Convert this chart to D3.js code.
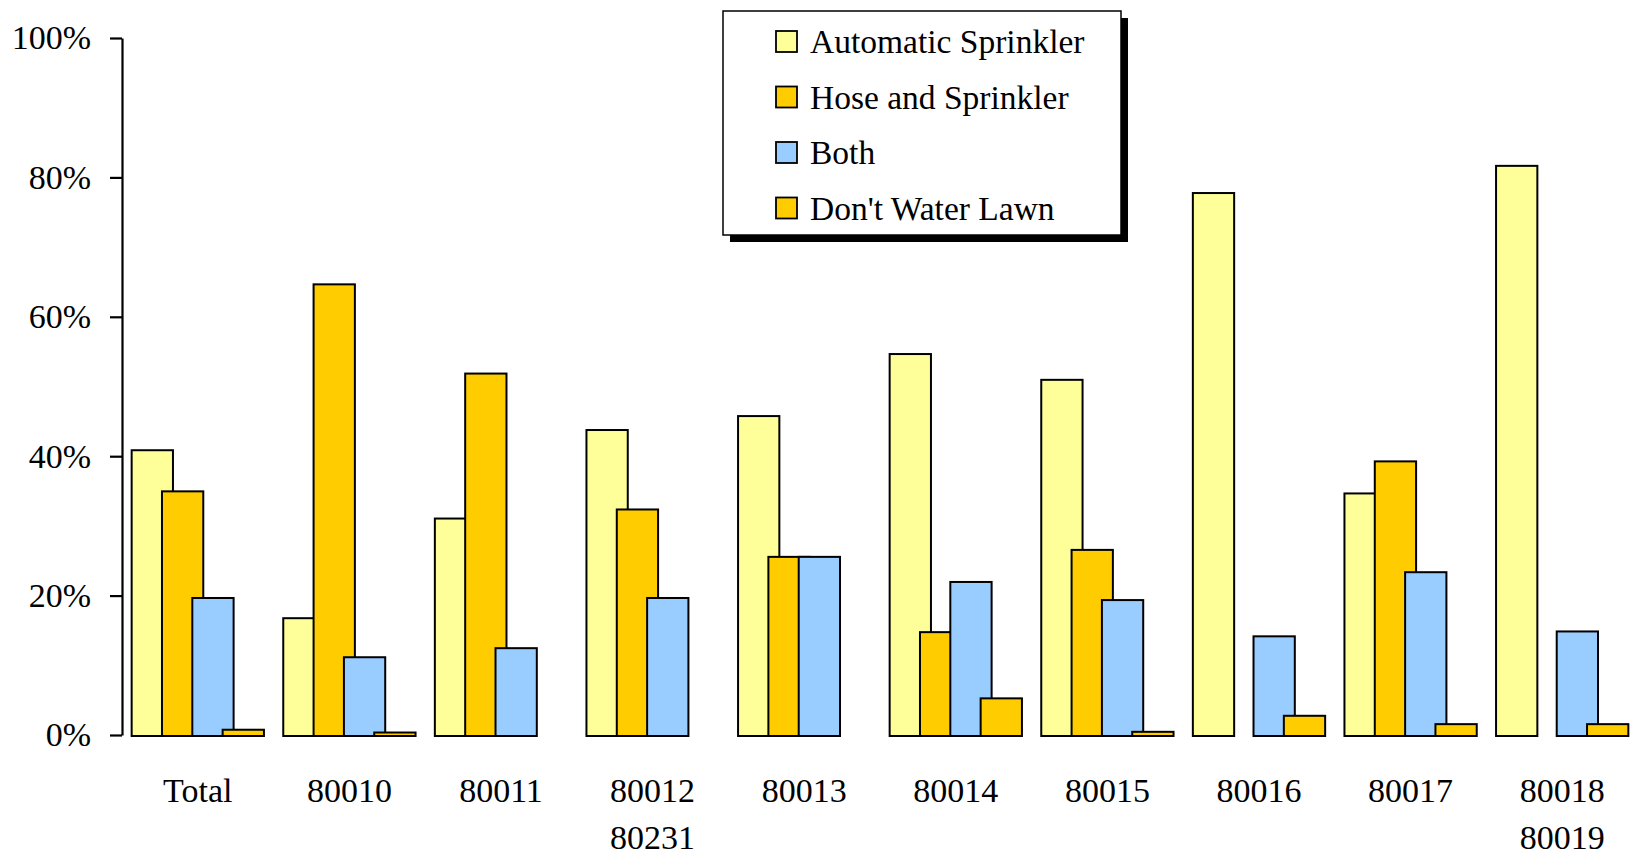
<!DOCTYPE html>
<html>
<head>
<meta charset="utf-8">
<script src="https://cdn.jsdelivr.net/npm/d3@7"></script>
<style>
  html, body { margin: 0; padding: 0; background: #ffffff; }
  svg { display: block; }
  text { font-family: "Liberation Serif", "Times New Roman", Times, serif; fill: #000; }
</style>
</head>
<body>
<svg id="chart" width="1640" height="856"></svg>
<script>
// Lawn watering method by ZIP code (share of households)
const categories = ["Total", "80010", "80011", "80012\n80231", "80013", "80014", "80015", "80016", "80017", "80018\n80019"];
const seriesNames = ["Automatic Sprinkler", "Hose and Sprinkler", "Both", "Don't Water Lawn"];
const seriesColors = ["#FFFF99", "#FFCC00", "#99CCFF", "#FFCC00"];

const automaticSprinkler = [41.0, 16.9, 31.2, 43.9, 45.9, 54.8, 51.1, 77.9, 34.8, 81.8];
const hoseAndSprinkler   = [35.1, 64.8, 52.0, 32.5, 25.7, 14.9, 26.7, 0, 39.4, 0];
const both               = [19.8, 11.3, 12.6, 19.8, 25.7, 22.1, 19.5, 14.3, 23.5, 15.0];
const dontWaterLawn      = [0.9, 0.5, 0, 0, 0, 5.4, 0.6, 2.9, 1.7, 1.7];

const yTicks = [0, 20, 40, 60, 80, 100];

const seriesValues = [automaticSprinkler, hoseAndSprinkler, both, dontWaterLawn];

const svg = d3.select("#chart");

// Scales
const x = d3.scaleBand().domain(categories).range([122, 1638]).paddingInner(0).paddingOuter(0);
const y = d3.scaleLinear().domain([0, 100]).range([735, 38]);

// Bars in a cluster overlap: each bar is wider than its slot
const slot = 30.33;
const barW = 43.3;
const clusterSpan = slot * (seriesNames.length - 1) + barW;
const inner = d3.scaleBand().domain(seriesNames)
  .range([-clusterSpan / 2, -clusterSpan / 2 + slot * seriesNames.length]);

// Y axis
const yAxis = d3.axisLeft(y)
  .tickValues(yTicks)
  .tickFormat(d => d + "%")
  .tickSize(12)
  .tickSizeOuter(0)
  .tickPadding(19);

const gy = svg.append("g").attr("transform", "translate(122,0)").call(yAxis);
gy.select(".domain").attr("stroke", "#000").attr("stroke-width", 2.2);
gy.selectAll(".tick line").attr("stroke", "#000").attr("stroke-width", 2.2);
gy.selectAll(".tick text")
  .attr("font-family", "'Liberation Serif', 'Times New Roman', serif")
  .attr("font-size", 34)
  .attr("fill", "#000");

// Bars, drawn series by series so later series sit on top
const rows = [];
seriesNames.forEach((name, si) => {
  categories.forEach((cat, ci) => {
    rows.push({ series: name, si: si, cat: cat, value: seriesValues[si][ci] });
  });
});

const sw = 2;
svg.append("g").selectAll("rect")
  .data(rows.filter(d => d.value > 0))
  .join("rect")
  .attr("x", d => x(d.cat) + x.bandwidth() / 2 + inner(d.series) + sw / 2)
  .attr("width", barW - sw)
  .attr("y", d => y(d.value) + sw / 2)
  .attr("height", d => y(0) - y(d.value))
  .attr("fill", d => seriesColors[d.si])
  .attr("stroke", "#000")
  .attr("stroke-width", sw);

// Category labels (some span two lines)
const xAxis = d3.axisBottom(x).tickSize(0).tickPadding(0).tickFormat("");
const gx = svg.append("g").attr("transform", "translate(0,735)").call(xAxis);
gx.select(".domain").remove();
gx.selectAll(".tick").each(function(d) {
  const t = d3.select(this).append("text")
    .attr("text-anchor", "middle")
    .attr("font-size", 34)
    .attr("y", 67);
  d.split("\n").forEach((line, i) => {
    t.append("tspan").attr("x", 0).attr("dy", i === 0 ? 0 : 47).text(line);
  });
});

// Legend with drop shadow
const lg = svg.append("g").attr("transform", "translate(723,11)");
const lgW = 398, lgH = 224;
lg.append("rect").attr("x", 7).attr("y", 7).attr("width", lgW).attr("height", lgH).attr("fill", "#000");
lg.append("rect").attr("x", 0).attr("y", 0).attr("width", lgW).attr("height", lgH)
  .attr("fill", "#fff").attr("stroke", "#000").attr("stroke-width", 1.5);

const item = lg.selectAll("g.item").data(seriesNames).join("g")
  .attr("class", "item")
  .attr("transform", (d, i) => `translate(0,${31 + i * 55.5})`);
item.append("rect")
  .attr("x", 53).attr("y", -11).attr("width", 21).attr("height", 21)
  .attr("fill", (d, i) => seriesColors[i])
  .attr("stroke", "#000").attr("stroke-width", 1.8);
item.append("text")
  .attr("x", 87).attr("y", 11)
  .attr("font-size", 33.5)
  .text(d => d);
</script>
</body>
</html>
